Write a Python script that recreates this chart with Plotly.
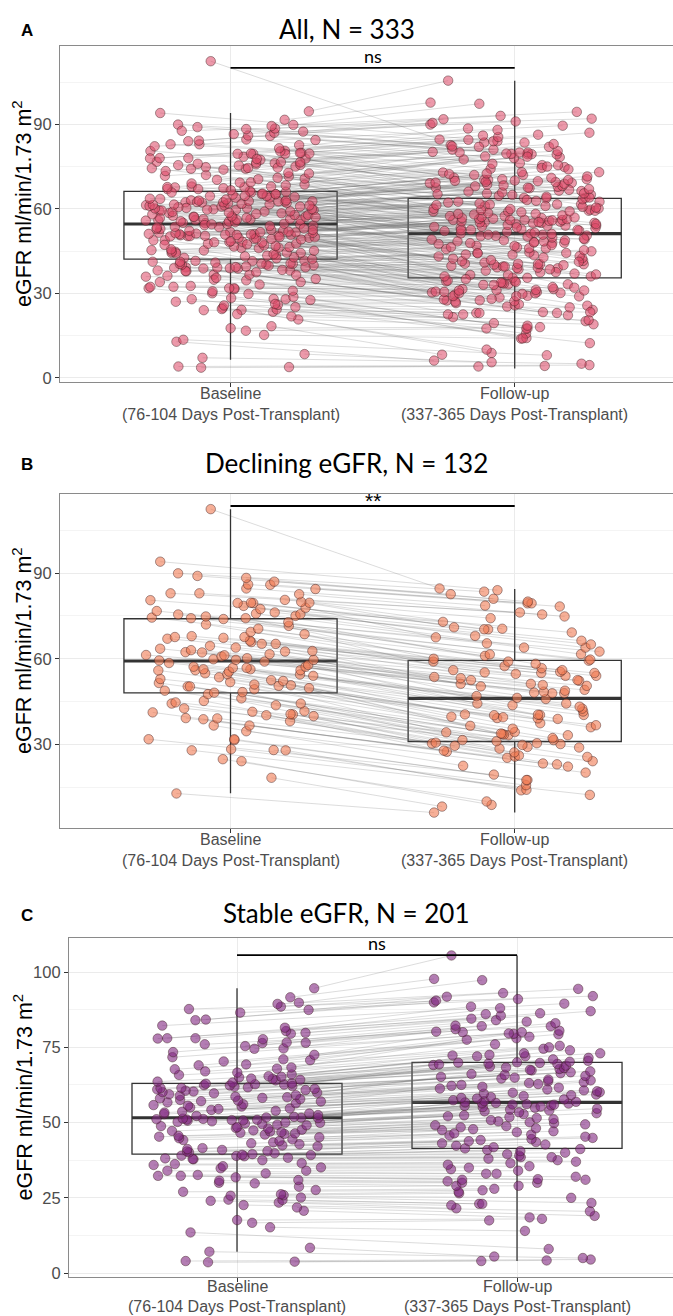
import math
import plotly.graph_objects as go

# ---------------- data ----------------
categories = [1, 2]
tick_labels = ["Baseline", "Follow-up"]
tick_sublabels = ["(76-104 Days Post-Transplant)", "(337-365 Days Post-Transplant)"]

# Declining eGFR group (N = 132), paired by subject (same index)
decl_base = [12.8, 18.3, 24.1, 24.8, 27.9, 27.9, 28.0, 28.3, 31.5, 31.8,
             31.8, 34.6, 36.6, 36.6, 38.1, 38.8, 39.1, 39.2, 39.9, 40.2,
             40.5, 40.6, 41.2, 41.4, 41.6, 42.6, 43.7, 44.3, 44.3, 44.7,
             45.2, 46.1, 47.6,
             48.1, 48.3, 48.8, 49.3, 49.7, 50.3, 50.3, 50.5, 50.7, 51.0,
             51.5, 51.8, 52.2, 52.5, 52.9, 53.5, 54.0, 54.5, 54.6, 54.9,
             55.5, 55.9, 56.0, 56.0, 56.3, 56.3, 56.8, 56.8, 57.2, 57.2,
             57.8, 58.5, 59.0,
             59.4, 59.6, 59.6, 59.8, 60.2, 60.8, 61.2, 61.3, 61.6, 62.2,
             62.3, 62.5, 62.7, 63.0, 63.5, 63.9, 64.5, 65.2, 65.2, 65.8,
             66.3, 67.0, 67.3, 67.6, 67.6, 67.9, 68.6, 69.4, 70.5, 71.5,
             72.0, 72.8, 73.9,
             74.2, 74.2, 74.4, 74.8, 75.0, 75.5, 75.6, 75.8, 76.2, 76.7,
             77.4, 77.8, 78.5, 79.5, 79.5, 79.6, 79.6, 79.9, 80.5, 80.6,
             82.6, 82.9, 82.9, 84.4, 84.6, 85.9, 86.0, 87.0, 88.3, 89.0,
             89.9, 94.0, 112.4]
decl_follow = [6.1, 8.2, 8.8, 10.0, 12.3, 13.9, 14.1, 15.7, 17.5, 17.5,
               19.4, 20.1, 22.2, 22.5, 23.0, 23.3, 24.1, 25.3, 25.6, 25.7,
               26.1, 27.2, 27.4, 27.8, 28.5, 28.9, 29.1, 29.5, 29.8, 30.1,
               30.3, 30.4, 30.6,
               31.1, 31.5, 31.5, 32.2, 33.2, 33.2, 33.4, 33.6, 33.8, 34.2,
               34.3, 35.5, 36.0, 36.5, 36.7, 37.4, 38.9, 39.1, 39.2, 39.5,
               39.7, 40.2, 40.3, 40.3, 40.4, 40.5, 41.5, 42.5, 43.2, 43.7,
               44.3, 44.3, 45.9,
               46.3, 46.9, 47.9, 47.9, 48.1, 48.4, 48.8, 49.1, 50.3, 50.5,
               50.8, 51.2, 51.2, 52.3, 52.5, 52.5, 53.2, 53.6, 54.0, 54.0,
               54.7, 55.0, 55.0, 55.2, 55.4, 56.0, 56.0, 56.7, 57.4, 58.2,
               59.0, 59.0, 59.3,
               59.7, 60.0, 61.0, 61.5, 61.6, 62.5, 63.9, 63.9, 65.0, 65.4,
               66.3, 67.5, 68.0, 69.2, 70.3, 70.3, 70.5, 71.0, 72.9, 74.2,
               74.8, 75.5, 76.2, 78.3, 78.6, 79.4, 79.4, 80.0, 81.0, 82.6,
               83.5, 84.0, 84.6]

# Stable eGFR group (N = 201), paired by subject (same index)
stab_base = [3.6, 3.8, 4.0, 7.1, 8.4, 13.5, 15.2, 16.7, 17.6, 20.7,
             21.8, 22.6, 23.4, 24.0, 24.3, 24.4, 25.1, 25.7, 25.9, 26.2,
             27.0, 27.6, 28.7, 29.8, 30.0, 30.7, 30.9, 31.8, 32.3, 32.3,
             32.6, 33.1, 34.0, 34.0, 34.8, 35.1, 35.5, 35.9, 36.2, 36.5,
             37.5, 37.8, 37.9, 38.1, 38.3, 38.8, 38.9, 39.0, 39.2, 39.3,
             39.5, 39.8, 40.1, 40.4, 40.5, 40.9, 41.2, 41.5, 42.1, 42.4,
             42.8, 43.1, 43.4, 43.9, 44.2, 44.4, 44.8, 45.1, 45.3, 45.6,
             46.0, 46.2, 46.4, 46.6, 46.8, 47.0, 47.2, 47.4, 47.6, 48.0,
             48.2, 48.5, 48.8, 49.1, 49.3, 49.5, 49.7, 49.9, 50.0, 50.2,
             50.4, 50.6, 50.7, 50.8, 50.9, 51.0, 51.1, 51.2, 51.3, 51.5,
             51.6,
             51.7, 51.9, 52.2, 52.5, 52.8, 53.0, 53.3, 53.6, 53.9, 54.2,
             54.5, 54.7, 55.0, 55.3, 55.6, 55.8, 56.1, 56.4, 56.7, 57.0,
             57.1, 57.3, 57.5, 57.8, 58.0, 58.2, 58.4, 58.6, 58.9, 59.1,
             59.4, 59.7, 59.9, 60.1, 60.3, 60.6, 60.8, 61.0, 61.2, 61.4,
             61.5, 61.7, 61.9, 62.1, 62.3, 62.4, 62.6, 62.7, 62.9, 63.0,
             63.3, 63.6, 64.0, 64.2, 64.5, 64.6, 65.0, 65.2, 65.4, 65.8,
             66.0, 66.6, 67.0, 67.7, 67.9, 68.3, 69.0, 69.3, 70.3, 70.7,
             71.0, 71.7, 72.5, 73.4, 74.5, 74.6, 75.4, 76.0, 76.4, 76.5,
             76.6, 77.7, 77.9, 78.0, 78.0, 79.5, 79.8, 80.4, 81.5, 82.2,
             84.0, 84.2, 86.5, 87.4, 87.7, 88.5, 89.4, 89.8, 91.6, 94.6]
stab_follow = [4.0, 4.2, 4.5, 5.0, 5.5, 8.0, 14.0, 17.5, 18.0, 18.5,
               19.0, 20.5, 21.5, 22.5, 23.0, 23.0, 23.3, 25.0, 26.5, 27.0,
               27.5, 28.0, 29.0, 29.0, 30.0, 30.0, 30.5, 31.0, 31.0, 31.2,
               32.0, 33.0, 33.0, 34.0, 34.5, 35.0, 35.5, 36.0, 36.5, 37.0,
               37.5, 38.0, 38.5, 38.5, 39.0, 39.5, 40.0, 40.5, 40.9, 41.2,
               41.4, 41.8, 42.3, 42.7, 43.1, 43.5, 43.8, 44.2, 44.5, 44.9,
               45.3, 45.7, 46.0, 46.4, 46.8, 47.1, 47.5, 47.8, 48.1, 48.4,
               48.8, 49.1, 49.4, 49.8, 50.1, 50.4, 50.8, 51.1, 51.5, 51.8,
               52.1, 52.4, 52.8, 53.1, 53.4, 53.7, 54.0, 54.3, 54.6, 54.9,
               55.1, 55.3, 55.5, 55.7, 55.9, 56.0, 56.1, 56.3, 56.4, 56.5,
               56.7,
               56.9, 57.1, 57.4, 57.7, 58.0, 58.2, 58.5, 58.8, 59.1, 59.3,
               59.6, 59.9, 60.1, 60.4, 60.7, 61.0, 61.3, 61.6, 61.9, 62.2,
               62.5, 62.8, 63.1, 63.4, 63.7, 64.0, 64.3, 64.6, 64.9, 65.2,
               65.5, 65.8, 66.1, 66.4, 66.7, 67.0, 67.3, 67.5, 67.8, 68.1,
               68.3, 68.6, 68.9, 69.1, 69.3, 69.5, 69.6, 69.8, 69.9, 70.0,
               70.2, 70.5, 71.0, 71.5, 72.0, 72.0, 72.3, 72.5, 73.0, 73.0,
               74.0, 74.5, 75.0, 75.5, 76.0, 77.5, 78.0, 78.5, 79.3, 79.5,
               79.6, 80.0, 80.0, 80.2, 80.5, 81.0, 82.0, 82.0, 82.2, 83.0,
               83.5, 84.0, 84.5, 85.5, 86.0, 86.3, 87.0, 88.0, 88.5, 89.5,
               89.9, 90.5, 91.0, 91.8, 92.0, 93.0, 94.4, 97.3, 97.7, 105.5]

# All patients = declining + stable
all_base = decl_base + stab_base
all_follow = decl_follow + stab_follow

# Box statistics: [baseline, follow-up]
all_q1, all_med, all_q3 = [42.1, 35.5], [54.6, 51.2], [66.2, 63.7]
all_lo, all_hi = [6.4, 3.3], [94.0, 105.5]
decl_q1, decl_med, decl_q3 = [48.0, 31.0], [59.2, 46.1], [74.0, 59.4]
decl_lo, decl_hi = [12.9, 6.1], [112.4, 84.4]
stab_q1, stab_med, stab_q3 = [39.5, 41.4], [51.6, 56.7], [63.0, 70.0]
stab_lo, stab_hi = [7.1, 4.0], [94.6, 105.5]

titles = ["All, N = 333", "Declining eGFR, N = 132", "Stable eGFR, N = 201"]
letters = ["A", "B", "C"]
signif = ["ns", "**", "ns"]

# ---------------- helpers ----------------
W, H = 673, 1316


def jit(i, salt):
    # deterministic horizontal jitter (position only)
    v = math.sin(i * 12.9898 + salt * 78.233) * 43758.5453
    return (v - math.floor(v) - 0.5) * 0.6


decl_jb = [jit(i, 1) for i in range(len(decl_base))]
decl_jf = [jit(i, 2) for i in range(len(decl_base))]
stab_jb = [jit(i + 500, 1) for i in range(len(stab_base))]
stab_jf = [jit(i + 500, 2) for i in range(len(stab_base))]

panels = [
    dict(base=all_base, follow=all_follow, jb=decl_jb + stab_jb, jf=decl_jf + stab_jf,
         q1=all_q1, med=all_med, q3=all_q3, lo=all_lo, hi=all_hi,
         color="rgba(222,73,104,0.56)", top=46, bottom=382, left=60,
         yr=[-1.5, 117.8], dt=30, br=110.0, lab=(11, 32)),
    dict(base=decl_base, follow=decl_follow, jb=decl_jb, jf=decl_jf,
         q1=decl_q1, med=decl_med, q3=decl_q3, lo=decl_lo, hi=decl_hi,
         color="rgba(240,122,82,0.6)", top=494, bottom=828, left=60,
         yr=[0.7, 117.7], dt=30, br=113.5, lab=(11, 32)),
    dict(base=stab_base, follow=stab_follow, jb=stab_jb, jf=stab_jf,
         q1=stab_q1, med=stab_med, q3=stab_q3, lo=stab_lo, hi=stab_hi,
         color="rgba(128,38,128,0.6)", top=938, bottom=1277, left=69,
         yr=[-1.3, 111.3], dt=25, br=105.6, lab=(9, 29)),
]
title_y = [29, 463, 913]

fig = go.Figure()
annotations = []
shapes = []
layout_axes = {}
tick_font = dict(family="Liberation Sans, Arial", size=16, color="#4D4D4D")

for k, p in enumerate(panels):
    sfx = "" if k == 0 else str(k + 1)
    xa, ya = "x" + sfx, "y" + sfx
    box_w = 0.75

    # boxes
    for c in range(2):
        fig.add_trace(go.Box(
            x=[categories[c]], q1=[p["q1"][c]], median=[p["med"][c]], q3=[p["q3"][c]],
            lowerfence=[p["lo"][c]], upperfence=[p["hi"][c]],
            width=box_w, whiskerwidth=0, boxpoints=False,
            fillcolor="rgba(0,0,0,0)", line=dict(color="#333333", width=1.3),
            hoverinfo="skip", showlegend=False, xaxis=xa, yaxis=ya))
        fig.add_trace(go.Scatter(
            x=[categories[c] - box_w / 2, categories[c] + box_w / 2],
            y=[p["med"][c], p["med"][c]], mode="lines",
            line=dict(color="#333333", width=3.2), hoverinfo="skip",
            showlegend=False, xaxis=xa, yaxis=ya))

    # connecting lines
    lx, ly = [], []
    for i in range(len(p["base"])):
        lx += [categories[0] + p["jb"][i], categories[1] + p["jf"][i], None]
        ly += [p["base"][i], p["follow"][i], None]
    fig.add_trace(go.Scatter(x=lx, y=ly, mode="lines",
                             line=dict(color="rgba(100,100,100,0.32)", width=0.7),
                             hoverinfo="skip", showlegend=False, xaxis=xa, yaxis=ya))

    # points
    for c, vals, jj in [(0, p["base"], p["jb"]), (1, p["follow"], p["jf"])]:
        fig.add_trace(go.Scatter(
            x=[categories[c] + j for j in jj], y=vals, mode="markers",
            marker=dict(size=9.5, color=p["color"],
                        line=dict(color="rgba(60,30,30,0.55)", width=0.8)),
            hoverinfo="skip", showlegend=False, xaxis=xa, yaxis=ya))

    ydom = [1 - p["bottom"] / H, 1 - p["top"] / H]
    xdom = [p["left"] / W, 1.0]
    layout_axes["xaxis" + sfx] = dict(
        domain=xdom, anchor=ya, range=[0.4, 2.557],
        tickvals=categories, showticklabels=False,
        ticks="outside", ticklen=4, tickcolor="#333333",
        showgrid=True, gridcolor="#EBEBEB", gridwidth=1,
        showline=True, linecolor="#8A8A8A", linewidth=1.2, mirror=True,
        zeroline=False, automargin=False, fixedrange=True)
    layout_axes["yaxis" + sfx] = dict(
        domain=ydom, anchor=xa, range=p["yr"], tick0=0, dtick=p["dt"],
        tickfont=dict(family="Liberation Sans, Arial", size=16.5, color="#4D4D4D"),
        ticks="outside", ticklen=4, tickcolor="#333333",
        showgrid=True, gridcolor="#EBEBEB", gridwidth=1,
        minor=dict(dtick=p["dt"] / 2, tick0=0, showgrid=True,
                   gridcolor="#F4F4F4", gridwidth=1),
        showline=True, linecolor="#8A8A8A", linewidth=1.2, mirror=False,
        zeroline=False, automargin=False, fixedrange=True)

    # category labels (two lines)
    for c in range(2):
        for txt, off in [(tick_labels[c], p["lab"][0]), (tick_sublabels[c], p["lab"][1])]:
            annotations.append(dict(xref=xa, yref="paper", x=categories[c],
                                    y=1 - (p["bottom"] + off) / H, text=txt,
                                    showarrow=False, xanchor="center", yanchor="middle",
                                    font=tick_font))

    # bracket
    shapes.append(dict(type="line", xref=xa, yref=ya, x0=1, x1=2,
                       y0=p["br"], y1=p["br"], line=dict(color="black", width=1.8)))
    if signif[k] == "**":
        sig_font = dict(family="Liberation Sans, Arial", size=21, color="black")
        sig_shift = -8
    else:
        sig_font = dict(family="Lato", size=18, color="black")
        sig_shift = -1
    annotations.append(dict(xref=xa, yref=ya, x=1.5, y=p["br"], text=signif[k],
                            showarrow=False, yanchor="bottom", yshift=sig_shift,
                            font=sig_font))
    # titles / letters
    annotations.append(dict(xref="paper", yref="paper", x=347 / W, y=1 - title_y[k] / H,
                            text=titles[k], showarrow=False, xanchor="center",
                            yanchor="middle",
                            font=dict(family="Lato", size=26, color="black")))
    annotations.append(dict(xref="paper", yref="paper", x=27 / W, y=1 - (title_y[k] + 2) / H,
                            text="<b>" + letters[k] + "</b>", showarrow=False,
                            xanchor="center", yanchor="middle",
                            font=dict(family="Liberation Sans, Arial", size=17,
                                      color="black")))
    # y-axis title
    annotations.append(dict(xref="paper", yref="paper", x=22 / W,
                            y=1 - ((p["top"] + p["bottom"]) / 2 - 10) / H,
                            text="eGFR ml/min/1.73 m<sup>2</sup>", textangle=-90,
                            showarrow=False, xanchor="center", yanchor="middle",
                            font=dict(family="Liberation Sans, Arial", size=21.5,
                                      color="black")))

fig.update_layout(
    width=W, height=H, margin=dict(l=0, r=0, t=0, b=0),
    paper_bgcolor="white", plot_bgcolor="white",
    showlegend=False, annotations=annotations, shapes=shapes,
    **layout_axes)

fig.write_html("out.html", config={"displayModeBar": False},
               post_script="document.body.style.margin='0px';"
                           "document.body.style.overflow='hidden';")
